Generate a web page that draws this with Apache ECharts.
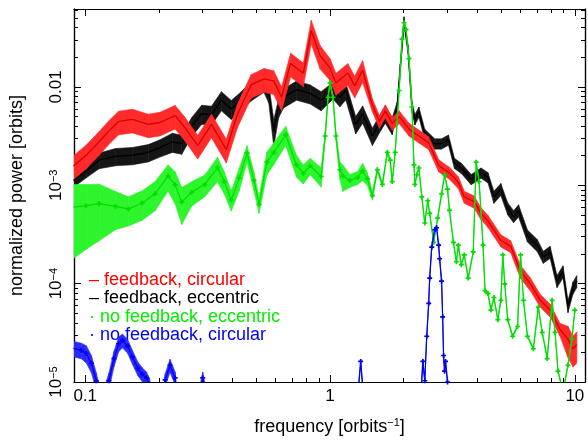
<!DOCTYPE html>
<html><head><meta charset="utf-8">
<script src="https://cdn.jsdelivr.net/npm/echarts@6/dist/echarts.min.js"></script>
<style>html,body{margin:0;padding:0;background:#fff}#c{width:588px;height:441px}</style>
</head><body><div id="c"></div>
<script>
// ---------- axis ranges & ticks ----------
const xRange = [0.09, 11];
const yRange = [1e-5, 0.062];
const xMajorTicks = [0.1, 1, 10];
const xMinorTicks = [0.2,0.3,0.4,0.5,0.6,0.7,0.8,0.9,2,3,4,5,6,7,8,9];
const yMajorTicks = [1e-5, 1e-4, 1e-3, 1e-2];
const yMinorTicks = [2e-5,3e-5,4e-5,5e-5,6e-5,7e-5,8e-5,9e-5,2e-4,3e-4,4e-4,5e-4,6e-4,7e-4,8e-4,9e-4,
                     2e-3,3e-3,4e-3,5e-3,6e-3,7e-3,8e-3,9e-3,0.02,0.03,0.04,0.05,0.06];
const seriesNames = ['feedback, circular','feedback, eccentric','no feedback, eccentric','no feedback, circular'];

// ---------- feedback, circular ----------
const fbCircFreq = [0.0895,0.101,0.114,0.127,0.137,0.156,0.181,0.202,0.233,0.255,0.288,0.328,0.377,0.418,0.476,0.537,0.589,0.634,0.690,0.778,0.838,0.911,1.0,1.057,1.182,1.261,1.359,1.490,1.591,1.682,1.795,1.915,2.101,2.306,2.529,2.777,2.936,3.075,3.343,3.534,3.880,4.139,4.418,4.985,5.468,6.0,6.583,7.223,7.926,8.697,9.372,9.819,10.19];
const fbCircPower = [1.57e-3,2.02e-3,2.77e-3,3.72e-3,4.46e-3,4.67e-3,4.16e-3,4.35e-3,5.11e-3,3.89e-3,2.53e-3,4.16e-3,2.31e-3,5.22e-3,1.05e-2,1.21e-2,1.15e-2,7.85e-3,1.73e-2,1.38e-2,3.74e-2,2.08e-2,1.55e-2,1.10e-2,1.38e-2,1.03e-2,1.48e-2,6.55e-3,4.46e-3,5.71e-3,4.26e-3,4.99e-3,3.72e-3,3.17e-3,2.71e-3,1.6e-3,1.44e-3,1.34e-3,1.07e-3,7.62e-4,6.81e-4,5.18e-4,4.33e-4,2.75e-4,2.40e-4,1.33e-4,9.93e-5,6.76e-5,5.39e-5,3.43e-5,2.73e-5,2.18e-5,2.4e-5];
const fbCircErr = [0.27,0.27,0.27,0.27,0.27,0.27,0.27,0.27,0.27,0.27,0.27,0.27,0.27,0.27,0.27,0.27,0.27,0.27,0.27,0.27,0.27,0.27,0.25,0.25,0.25,0.25,0.25,0.15,0.15,0.15,0.15,0.15,0.15,0.15,0.15,0.14,0.14,0.14,0.14,0.14,0.14,0.14,0.14,0.14,0.14,0.15,0.15,0.15,0.15,0.15,0.35,0.35,0.35];

// ---------- feedback, eccentric ----------
const fbEccFreq = [0.0895,0.101,0.114,0.133,0.156,0.181,0.202,0.227,0.248,0.272,0.299,0.328,0.360,0.395,0.434,0.476,0.537,0.562,0.589,0.617,0.646,0.730,0.830,0.920,1.0,1.028,1.097,1.160,1.273,1.359,1.490,1.591,1.682,1.795,1.880,1.935,2.005,2.083,2.161,2.222,2.306,2.438,2.675,2.855,3.047,3.222,3.437,3.772,4.139,4.418,4.669,4.985,5.319,5.621,5.889,6.403,7.025,7.426,7.926,8.455,8.943,9.372,9.819,10.19];
const fbEccPower = [1.12e-3,1.40e-3,1.80e-3,1.97e-3,2.02e-3,2.16e-3,2.42e-3,2.77e-3,2.65e-3,3.98e-3,5.34e-3,5.22e-3,7.33e-3,5.98e-3,7.33e-3,9.20e-3,1.13e-2,8.79e-3,3.56e-3,6.25e-3,7.85e-3,9.40e-3,8.59e-3,7.33e-3,8.79e-3,9.40e-3,7.85e-3,9.20e-3,4.16e-3,5.34e-3,3.17e-3,4.26e-3,5.34e-3,4.07e-3,6.25e-3,1.55e-2,4.70e-2,2.43e-2,6.25e-3,4.67e-3,5.58e-3,3.32e-3,2.65e-3,2.65e-3,2.90e-3,1.68e-3,1.50e-3,1.15e-3,1.34e-3,1.20e-3,7.62e-4,9.14e-4,5.81e-4,4.84e-4,5.55e-4,3.08e-4,2.46e-4,1.87e-4,2.10e-4,1.06e-4,1.33e-4,5.90e-5,9.07e-5,1.06e-4];
const fbEccErr = [0.15,0.15,0.18,0.2,0.2,0.2,0.2,0.22,0.22,0.22,0.22,0.22,0.22,0.22,0.22,0.22,0.22,0.22,0.3,0.22,0.22,0.22,0.22,0.22,0.2,0.2,0.2,0.2,0.2,0.2,0.2,0.2,0.2,0.2,0.12,0.1,0.1,0.1,0.12,0.12,0.12,0.12,0.12,0.12,0.12,0.12,0.12,0.12,0.12,0.12,0.14,0.14,0.14,0.14,0.14,0.14,0.14,0.14,0.14,0.14,0.14,0.14,0.14,0.14];

// ---------- no feedback, eccentric ----------
const nfEccFreq = [0.0895,0.101,0.114,0.133,0.150,0.171,0.193,0.218,0.233,0.248,0.272,0.308,0.347,0.370,0.395,0.426,0.458,0.489,0.513,0.552,0.589,0.659,0.730,0.778,0.830,0.920,0.955,0.982,1.0,1.028,1.057,1.097,1.128,1.204,1.297,1.359,1.423,1.490,1.561,1.636,1.714,1.762,1.795,1.846,1.915,1.969,2.005,2.044,2.101,2.161,2.202,2.222,2.263,2.306,2.371,2.438,2.506,2.553,2.650,2.751,2.855,2.936,3.019,3.075,3.192,3.282,3.343,3.437,3.534,3.669,3.845,3.953,4.063,4.217,4.296,4.418,4.541,4.669,4.846,4.985,5.077,5.172,5.319,5.569,5.835,5.999,6.168,6.403,6.768,7.091,7.358,7.709,8.073,8.300,8.534,8.943,9.372,9.72,10.0];
const nfEccPower = [6.0e-4,6.2e-4,6.5e-4,6.1e-4,5.75e-4,6.6e-4,8.2e-4,1.24e-3,1.01e-3,6.75e-4,8.5e-4,1.02e-3,1.51e-3,1.09e-3,7.1e-4,1.19e-3,2.12e-3,1.12e-3,6.4e-4,1.72e-3,2.16e-3,3.26e-3,1.61e-3,1.32e-3,1.58e-3,1.23e-3,3.17e-3,7.85e-3,1.10e-2,7.85e-3,3.17e-3,1.44e-3,1.24e-3,1.12e-3,1.2e-3,1.4e-3,1.16e-3,7.85e-4,1.44e-3,1.02e-3,2.16e-3,1.80e-3,1.09e-3,2.16e-3,9.20e-3,3.06e-2,4.49e-2,3.83e-2,1.94e-2,6.25e-3,1.61e-3,1.02e-3,1.28e-3,1.50e-3,7.62e-4,4.14e-4,6.96e-4,5.18e-4,2.63e-4,4.63e-4,8.15e-4,1.28e-3,9.14e-4,5.55e-4,2.63e-4,1.67e-4,2.46e-4,1.56e-4,1.96e-4,1.14e-4,2.10e-4,1.72e-3,1.09e-3,2.46e-4,8.48e-5,7.92e-5,5.39e-5,7.23e-5,4.30e-5,6.76e-5,1.96e-4,9.93e-5,4.30e-5,2.92e-5,3.67e-5,1.96e-4,6.76e-5,2.92e-5,2.18e-5,5.77e-5,3.20e-5,1.73e-5,6.76e-5,3.20e-5,1.29e-5,8e-6,1.48e-5,2.73e-5,5.39e-5];
const nfEccErr = [0.70,0.64,0.58,0.42,0.33,0.33,0.33,0.30,0.36,0.41,0.28,0.25,0.28,0.25,0.23,0.26,0.19,0.22,0.19,0.26,0.25,0.22,0.25,0.22,0.19,0.22,0.10,0.06,0.05,0.06,0.10,0.2,0.3,0.15,0.15,0.2,0.15,0.1,0.06,0.05,0.05,0.05,0.05,0.04,0.03,0.03,0.03,0.03,0.03,0.03,0.03,0.03,0.03,0.03,0.03,0.03,0.03,0.03,0.03,0.03,0.03,0.03,0.03,0.03,0.03,0.03,0.03,0.03,0.03,0.03,0.03,0.03,0.03,0.03,0.03,0.03,0.03,0.03,0.03,0.03,0.03,0.03,0.03,0.03,0.03,0.03,0.03,0.03,0.03,0.03,0.03,0.03,0.03,0.03,0.03,0.03,0.03,0.03,0.03];

// ---------- no feedback, circular ----------
const nfCircFreq = [0.0895,0.0964,0.101,0.106,0.111,0.117,0.125,0.131,0.137,0.142,0.149,0.156,0.164,0.171,0.178,0.183,0.193,0.206,0.212,0.222,0.233,0.239,0.291,0.302,0.313,1.297,1.334,1.371,2.349,2.393,2.438,2.483,2.529,2.553,2.602,2.675,2.725,2.777,2.803,2.855,2.884,2.909,2.936,2.963,3.019,3.047];
const nfCircPower = [2.2e-5,2.1e-5,1.95e-5,1.55e-5,1.03e-5,6e-6,1.03e-5,1.73e-5,2.45e-5,2.65e-5,2.33e-5,1.8e-5,1.38e-5,1.2e-5,1.1e-5,9.5e-6,5e-6,5e-6,1.05e-5,1.48e-5,1.1e-5,6e-6,7e-6,1.1e-5,7e-6,7e-6,1.62e-5,7e-6,7e-6,1.62e-5,1.03e-5,2.92e-5,6.31e-5,1.14e-4,2.35e-4,3.53e-4,3.7e-4,2.46e-4,1.79e-4,1.06e-4,4.6e-5,1.86e-5,1.29e-5,1.62e-5,1e-5,7e-6];
const nfCircErr = [0.18,0.18,0.2,0.2,0.2,0.2,0.2,0.18,0.17,0.16,0.16,0.16,0.16,0.16,0.15,0.15,0.15,0.15,0.15,0.15,0.15,0.15,0.15,0.15,0.15,0.05,0.05,0.05,0.05,0.05,0.05,0.05,0.05,0.05,0.05,0.05,0.05,0.05,0.05,0.05,0.05,0.05,0.05,0.05,0.05,0.05];

// ---------- build ----------
const FONT = '"Liberation Sans", Arial, Helvetica, sans-serif';
const pts = (f, p) => f.map((v, i) => [v, p[i]]);
const band = (f, p, e) => f.map((v, i) => [v, p[i] * (1 + e[i]), p[i] * (1 - e[i])]);
const plusSym = 'path://M1,0H2V1H3V2H2V3H1V2H0V1H1Z';

function bandSeries(data, color, z) {
  return {
    type: 'custom', silent: true, clip: true, z, animation: false,
    xAxisIndex: 0, yAxisIndex: 0,
    data, encode: { x: 0, y: [1, 2] },
    renderItem(params, api) {
      const i = params.dataIndex;
      if (i >= data.length - 1) return { type: 'group', children: [] };
      const a = data[i], b = data[i + 1];
      const poly = [api.coord([a[0], a[1]]), api.coord([b[0], b[1]]), api.coord([b[0], b[2]]), api.coord([a[0], a[2]])];
      return { type: 'polygon', shape: { points: poly }, style: { fill: color, stroke: color, lineWidth: 0.6 } };
    }
  };
}
function lineSeries(name, data, color, width, z, sym) {
  return {
    type: 'line', name, data, z, clip: true, animation: false,
    xAxisIndex: 0, yAxisIndex: 0,
    showSymbol: !!sym, symbol: sym ? plusSym : 'none', symbolSize: 5,
    lineStyle: { color, width }, itemStyle: { color }
  };
}

const tickLine = { color: '#000', width: 1 };
function xAxis(pos, ticks, len, labels) {
  return {
    type: 'log', logBase: 10, min: xRange[0], max: xRange[1], position: pos,
    axisLine: { show: true, onZero: false, lineStyle: { color: '#000', width: 1.2 } },
    axisTick: { show: true, inside: true, length: len, customValues: ticks, lineStyle: tickLine },
    minorTick: { show: false }, splitLine: { show: false },
    axisLabel: labels ? {
      show: true, customValues: ticks, margin: 6, color: '#000', fontFamily: FONT, fontSize: 17,
      formatter: v => String(Number(Number(v).toPrecision(3)))
    } : { show: false },
    name: labels ? '{a|frequency [orbits}{s|−1}{a|]}' : '', nameLocation: 'middle', nameGap: 35,
    nameTextStyle: { rich: { a: { fontFamily: FONT, fontSize: 18, color: '#000', lineHeight: 20 }, s: { fontFamily: FONT, fontSize: 11, color: '#000', verticalAlign: 'top', lineHeight: 11 } } }
  };
}
function yAxis(pos, ticks, len, labels) {
  return {
    type: 'log', logBase: 10, min: yRange[0], max: yRange[1], position: pos,
    axisLine: { show: true, onZero: false, lineStyle: { color: '#000', width: 1.2 } },
    axisTick: { show: true, inside: true, length: len, customValues: ticks, lineStyle: tickLine },
    minorTick: { show: false }, splitLine: { show: false },
    axisLabel: labels ? {
      show: true, customValues: ticks, rotate: 90, margin: 9, color: '#000',
      formatter: v => { const e = Math.round(Math.log10(v)); return e >= -2 ? '{n|0.01}' : '{n|10}{s|−' + (-e) + '}'; },
      rich: { n: { fontFamily: FONT, fontSize: 17, color: '#000', lineHeight: 17 }, s: { fontFamily: FONT, fontSize: 11, color: '#000', verticalAlign: 'top', lineHeight: 11 } }
    } : { show: false },
    name: labels ? 'normalized power [orbits]' : '', nameLocation: 'middle', nameGap: 48,
    nameTextStyle: { fontFamily: FONT, fontSize: 18, color: '#000' }
  };
}

const colors = {
  fbCirc: { band: '#ff2a2a', line: '#d80000', text: '#ff0000' },
  fbEcc: { band: '#151515', line: '#000000', text: '#000000' },
  nfEcc: { band: '#2cf52c', line: '#00dd00', text: '#00ee00' },
  nfCirc: { band: '#2a2aff', line: '#0000ee', text: '#0000ff' }
};

const option = {
  backgroundColor: '#fff',
  animation: false,
  grid: { left: 67, right: 3, top: 9, bottom: 47, containLabel: false },
  xAxis: [
    xAxis('bottom', xMajorTicks, 7, true),
    xAxis('top', xMajorTicks, 7, false),
    xAxis('top', xMinorTicks, 4, false),
    xAxis('bottom', xMinorTicks, 4, false)
  ],
  yAxis: [
    yAxis('left', yMajorTicks, 7, true),
    yAxis('right', yMajorTicks, 7, false),
    yAxis('right', yMinorTicks, 4, false),
    yAxis('left', yMinorTicks, 4, false)
  ],
  legend: {
    left: 79, top: 266, orient: 'vertical', icon: 'none', itemWidth: 0, itemHeight: 10, itemGap: 0.3,
    selectedMode: false,
    formatter: n => (n.indexOf('no ') === 0 ? '· ' : '– ') + n,
    textStyle: { fontFamily: FONT, fontSize: 18, lineHeight: 18 },
    data: [
      { name: seriesNames[0], textStyle: { color: colors.fbCirc.text } },
      { name: seriesNames[1], textStyle: { color: colors.fbEcc.text } },
      { name: seriesNames[2], textStyle: { color: colors.nfEcc.text } },
      { name: seriesNames[3], textStyle: { color: colors.nfCirc.text } }
    ]
  },
  series: [
    bandSeries(band(fbEccFreq, fbEccPower, fbEccErr), colors.fbEcc.band, 2),
    lineSeries(seriesNames[1], pts(fbEccFreq, fbEccPower), colors.fbEcc.line, 1.3, 3, false),
    bandSeries(band(fbCircFreq, fbCircPower, fbCircErr), colors.fbCirc.band, 4),
    lineSeries(seriesNames[0], pts(fbCircFreq, fbCircPower), colors.fbCirc.line, 1.3, 5, false),
    bandSeries(band(nfEccFreq, nfEccPower, nfEccErr), colors.nfEcc.band, 6),
    lineSeries(seriesNames[2], pts(nfEccFreq, nfEccPower), colors.nfEcc.line, 1.2, 7, true),
    bandSeries(band(nfCircFreq, nfCircPower, nfCircErr), colors.nfCirc.band, 8),
    lineSeries(seriesNames[3], pts(nfCircFreq, nfCircPower), colors.nfCirc.line, 1.2, 9, true)
  ]
};
const chart = echarts.init(document.getElementById('c'), null, { renderer: 'canvas' });
chart.setOption(option);
</script></body></html>
